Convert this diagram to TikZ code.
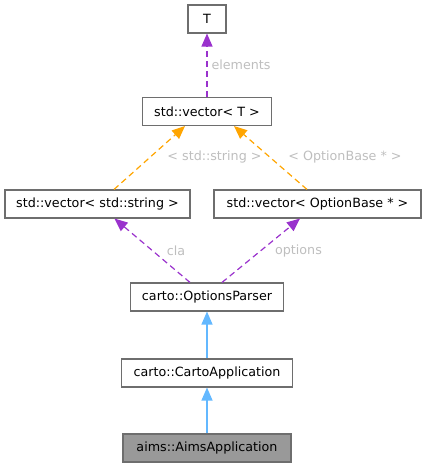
\documentclass[tikz,border=0pt]{standalone}
\usepackage{fontspec}
\setmainfont{DejaVu Sans}
\usepackage{tikz}
\usetikzlibrary{arrows.meta}
\definecolor{boxgray}{HTML}{6E6E6E}
\definecolor{curfill}{HTML}{999999}
\definecolor{usepurple}{HTML}{9A32CD}
\definecolor{tmplorange}{HTML}{FFA500}
\definecolor{inhblue}{HTML}{63B8FF}
\definecolor{lblgray}{HTML}{BEBEBE}
\tikzset{
  klass/.style={draw=boxgray,line width=1.1pt,minimum height=28pt,inner sep=0pt,
    font=\fontsize{12.7}{14}\selectfont,text=black},
  lbl/.style={font=\fontsize{12.7}{14}\selectfont,text=lblgray,inner sep=0pt},
  usage/.style={draw=usepurple,line width=1.2pt,dash pattern=on 6pt off 4pt,
    -{Triangle[length=13pt,width=11pt,fill=usepurple]}},
  tmpl/.style={draw=tmplorange,line width=1.2pt,dash pattern=on 6pt off 4pt,
    -{Triangle[length=13pt,width=11pt,fill=tmplorange]}},
  inherit/.style={draw=inhblue,line width=1.2pt,-{Triangle[length=13pt,width=11pt,fill=inhblue]}}
}
\begin{document}
\begin{tikzpicture}[x=1pt,y=-1pt]
				\useasboundingbox (0,0) rectangle (427,468);
				%\draw (0,0) grid (427,468);
				\node[klass,minimum width=38pt] (T) at (207,19) {T};
				\node[klass,minimum width=129pt] (vecT) at (207,111.5) {std::vector< T >};
				\node[klass,minimum width=185pt] (vecstr) at (97.5,204) {std::vector< std::string >};
				\node[klass,minimum width=207pt] (vecopt) at (317.5,204) {std::vector< OptionBase * >};
				\node[klass,minimum width=153pt] (parser) at (207,297) {carto::OptionsParser};
				\node[klass,minimum width=171pt] (cartoapp) at (207,373) {carto::CartoApplication};
				\node[klass,minimum width=168pt,fill=curfill] (aimsapp) at (207,448) {aims::AimsApplication};
				\draw[usage] (vecT.north) -- (T.south);
				\node[lbl] (lelem) at (241,65) {elements};
				\draw[tmpl] ([xshift=16.5pt]vecstr.north) -- ([xshift=-22pt]vecT.south);
				\node[lbl] (lstr) at (214.5,157) {< std::string >};
				\draw[tmpl] ([xshift=-10.5pt]vecopt.north) -- ([xshift=27pt]vecT.south);
				\node[lbl] (lopt) at (345,157) {< OptionBase * >};
				\draw[usage] ([xshift=-17pt]parser.north) -- ([xshift=17pt]vecstr.south);
				\node[lbl] (lcla) at (176,250.5) {cla};
				\draw[usage] ([xshift=15pt]parser.north) -- ([xshift=-17.5pt]vecopt.south);
				\node[lbl] (loptions) at (298.5,250.5) {options};
				\draw[inherit] (cartoapp.north) -- (parser.south);
				\draw[inherit] (aimsapp.north) -- (cartoapp.south);
			\end{tikzpicture}
\end{document}
